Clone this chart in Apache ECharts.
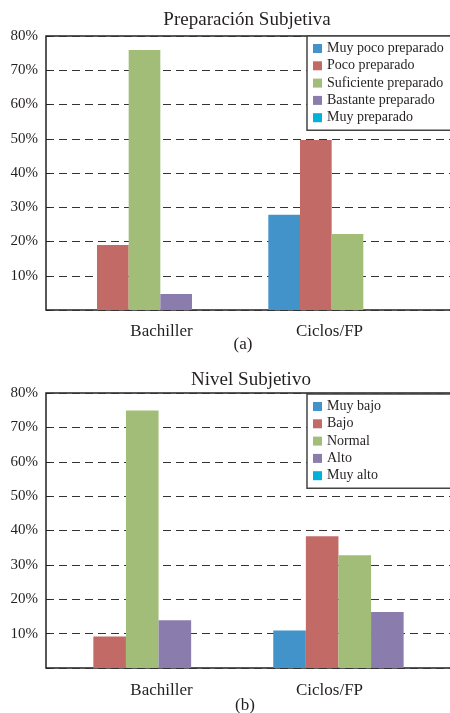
<!DOCTYPE html>
<html>
<head>
<meta charset="utf-8">
<script src="https://cdn.jsdelivr.net/npm/echarts@6/dist/echarts.min.js"></script>
<style>
    html, body { margin: 0; padding: 0; background: #fff; overflow: hidden; }
    /* el lienzo es algo más ancho que la ventana: el borde derecho queda fuera, como en el original */
    #main { width: 480px; height: 713px; }
</style>
</head>
<body>
<div id="main"></div>
<script type="text/javascript">
    // datos
    var categorias = ['Bachiller', 'Ciclos/FP'];
    var colores = ['#4393cb', '#c26b66', '#a2bd77', '#8a7dad', '#00b1d9'];

    var prepNombres = ['Muy poco preparado', 'Poco preparado', 'Suficiente preparado', 'Bastante preparado', 'Muy preparado'];
    var prepMuyPoco = [0, 27.8];
    var prepPoco = [19.0, 49.6];
    var prepSuficiente = [75.9, 22.2];
    var prepBastante = [4.7, 0];
    var prepMuy = [0, 0];

    var nivelNombres = ['Muy bajo', 'Bajo', 'Normal', 'Alto', 'Muy alto'];
    var nivelMuyBajo = [0, 10.9];
    var nivelBajo = [9.2, 38.3];
    var nivelNormal = [74.9, 32.8];
    var nivelAlto = [13.9, 16.3];
    var nivelMuyAlto = [0, 0];

    var yTicks = [0, 10, 20, 30, 40, 50, 60, 70, 80];

    var fuente = 'Liberation Serif, Times New Roman, serif';
    var texto = '#231f20';

    function barras(nombres, valores, ejeIdx, gap) {
        return nombres.map(function (n, i) {
            return {
                name: n,
                type: 'bar',
                xAxisIndex: ejeIdx,
                yAxisIndex: ejeIdx,
                data: valores[i],
                barGap: 0,
                barCategoryGap: gap,
                itemStyle: { color: colores[i] },
                silent: true
            };
        });
    }

    function marcoY(gridIdx) {
        return {
            gridIndex: gridIdx, type: 'value', min: yTicks[0], max: yTicks[yTicks.length - 1], interval: 10,
            axisLine: { show: false },
            axisTick: { show: true, inside: true, length: 4, lineStyle: { color: '#222' } },
            axisLabel: {
                margin: 8, fontFamily: fuente, fontSize: 15, color: texto,
                formatter: function (v) { return v === 0 ? '' : v + '%'; }
            },
            splitLine: { show: true, lineStyle: { color: '#333', type: [8, 5], width: 1 } }
        };
    }

    // eje solo para las etiquetas: en el original no van centradas bajo los grupos
    function ejeEtiquetas(gridIdx, margen) {
        return {
            gridIndex: gridIdx, type: 'category', data: categorias,
            axisLine: { show: false }, axisTick: { show: false },
            axisLabel: { margin: margen, fontFamily: fuente, fontSize: 17, color: texto }
        };
    }

    function ejeBarras(gridIdx) {
        return { gridIndex: gridIdx, type: 'category', data: categorias, show: false };
    }

    function leyenda(nombres, top, padDer) {
        return {
            data: nombres, orient: 'vertical', left: 307, top: top,
            padding: [5, padDer, 5, 6], itemGap: 2.3, itemWidth: 9, itemHeight: 9,
            icon: 'rect', borderColor: '#444', borderWidth: 1.5, backgroundColor: '#fff',
            textStyle: { fontFamily: fuente, fontSize: 14, color: texto, lineHeight: 15, padding: [0, 0, 0, 0] },
            selectedMode: false
        };
    }

    var myChart = echarts.init(document.getElementById('main'));
    var option = {
        animation: false,
        backgroundColor: '#fff',
        title: [
            { text: 'Preparación Subjetiva', left: 247, top: 11, textAlign: 'center', padding: 0,
              textStyle: { fontFamily: fuente, fontSize: 19, fontWeight: 'normal', color: texto } },
            { text: '(a)', left: 243, top: 336, textAlign: 'center', padding: 0,
              textStyle: { fontFamily: fuente, fontSize: 17, fontWeight: 'normal', color: texto } },
            { text: 'Nivel Subjetivo', left: 251, top: 371, textAlign: 'center', padding: 0,
              textStyle: { fontFamily: fuente, fontSize: 19, fontWeight: 'normal', color: texto } },
            { text: '(b)', left: 245, top: 697, textAlign: 'center', padding: 0,
              textStyle: { fontFamily: fuente, fontSize: 17, fontWeight: 'normal', color: texto } }
        ],
        legend: [leyenda(prepNombres, 36, 40), leyenda(nivelNombres, 394, 110)],
        grid: [
            // marco (a)
            { left: 46, top: 36, width: 420, height: 274, show: true, borderColor: '#222', borderWidth: 1.5 },
            // barras (a)
            { left: 43, top: 36, width: 406, height: 274 },
            // marco (b)
            { left: 46, top: 393, width: 430, height: 275, show: true, borderColor: '#222', borderWidth: 1.5 },
            // barras (b)
            { left: 36, top: 393, width: 425, height: 275 },
            // etiquetas (a) y (b)
            { left: 77.5, top: 36, width: 336, height: 274 },
            { left: 77.5, top: 393, width: 336, height: 275 }
        ],
        xAxis: [
            { gridIndex: 0, type: 'value', show: false },
            ejeBarras(1),
            { gridIndex: 2, type: 'value', show: false },
            ejeBarras(3),
            ejeEtiquetas(4, 13),
            ejeEtiquetas(5, 14)
        ],
        yAxis: [
            marcoY(0),
            { gridIndex: 1, type: 'value', min: 0, max: 80, show: false },
            marcoY(2),
            { gridIndex: 3, type: 'value', min: 0, max: 80, show: false },
            { gridIndex: 4, type: 'value', show: false },
            { gridIndex: 5, type: 'value', show: false }
        ],
        series: [].concat(
            barras(prepNombres, [prepMuyPoco, prepPoco, prepSuficiente, prepBastante, prepMuy], 1, '22%'),
            barras(nivelNombres, [nivelMuyBajo, nivelBajo, nivelNormal, nivelAlto, nivelMuyAlto], 3, '23.3%')
        )
    };
    myChart.setOption(option);
</script>
</body>
</html>
